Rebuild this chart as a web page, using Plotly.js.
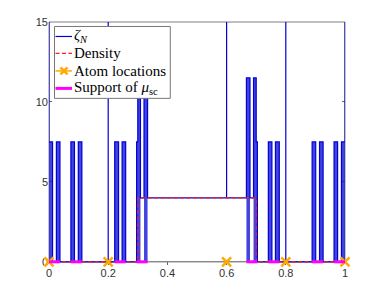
<!DOCTYPE html>
<html>
<head>
<meta charset="utf-8">
<script src="https://cdn.plot.ly/plotly-3.0.1.min.js"></script>
<style>html,body{margin:0;padding:0;background:#fff}#chart{width:382px;height:295px}</style>
</head>
<body>
<div id="chart"></div>
<script>
// ---- data ----
const atomX = [0, 0.2, 0.6, 0.8, 1];
const atomY = [0, 0, 0, 0, 0];
const densityX = [0, 0.3, 0.3, 0.7, 0.7, 1];
const densityY = [0, 0, 4, 4, 0, 0];
const densityLevel = 4;
const densityFrom = 0.3, densityTo = 0.7;
const supportStart = [0, 0.074, 0.222, 0.296, 0.667, 0.741, 0.889, 0.963];
const supportEnd   = [0.037, 0.111, 0.259, 0.333, 0.704, 0.778, 0.926, 1];
const barStart = [0, 0.025, 0.074, 0.099, 0.222, 0.247, 0.296, 0.321, 0.667, 0.691, 0.741, 0.765, 0.889, 0.914, 0.963, 0.988];
const barEnd   = [0.012, 0.037, 0.086, 0.111, 0.235, 0.259, 0.309, 0.333, 0.679, 0.704, 0.753, 0.778, 0.901, 0.926, 0.975, 1];
const barHeight = 7.5;
const atomSpike = 40;
const xTicks = [0, 0.2, 0.4, 0.6, 0.8, 1];
const xTickText = ['0', '0.2', '0.4', '0.6', '0.8', '1'];
const yTicks = [0, 5, 10, 15];
const yTickText = ['0', '5', '10', '15'];
const legendNames = ['<i>ζ</i><sub><i>N</i></sub>', 'Density', 'Atom locations', 'Support of <i>μ</i><sub>sc</sub>'];

// ---- colours ----
const blue = 'rgb(0,0,215)';
const red = 'rgb(255,30,30)';
const orange = 'rgb(255,170,0)';
const magenta = 'rgb(255,0,255)';

// ---- build zeta_N path (sum of the read components) ----
function level(x) {
  let v = 0;
  for (let i = 0; i < barStart.length; i++) if (x > barStart[i] && x < barEnd[i]) v += barHeight;
  if (x > densityFrom && x < densityTo) v += densityLevel;
  return v;
}
let bp = [0, 1, densityFrom, densityTo].concat(barStart, barEnd, atomX);
bp = Array.from(new Set(bp.map(v => +v.toFixed(6)))).sort((a, b) => a - b);
const zx = [], zy = [];
for (let i = 0; i < bp.length; i++) {
  const p = bp[i];
  if (i > 0) { zx.push(p); zy.push(level((bp[i - 1] + p) / 2)); }
  if (atomX.indexOf(p) >= 0) { zx.push(p); zy.push(atomSpike); }
  if (i < bp.length - 1) { zx.push(p); zy.push(level((p + bp[i + 1]) / 2)); }
}
// filled body of each zeta_N bar (dense oscillation in the reference)
const fx = [], fy = [];
for (let i = 0; i < barStart.length; i++) {
  const s = barStart[i], e = barEnd[i];
  const pts = [s].concat([densityFrom, densityTo].filter(v => v > s && v < e), [e]);
  fx.push(s); fy.push(0);
  for (let k = 0; k < pts.length - 1; k++) {
    const v = level((pts[k] + pts[k + 1]) / 2);
    fx.push(pts[k], pts[k + 1]); fy.push(v, v);
  }
  fx.push(e, s, null); fy.push(0, 0, null);
}
const sx = [], sy = [];
for (let i = 0; i < supportStart.length; i++) {
  sx.push(supportStart[i], supportEnd[i], null);
  sy.push(0, 0, null);
}
const ax = [], ay = [];
for (let i = 0; i < atomX.length; i++) { ax.push(atomX[i], null); ay.push(atomY[i], null); }

const traces = [
  {x: fx, y: fy, mode: 'lines', fill: 'toself', fillcolor: 'rgba(20,20,215,0.8)',
   line: {width: 0}, showlegend: false, hoverinfo: 'skip'},
  {x: zx, y: zy, mode: 'lines', name: legendNames[0], line: {color: blue, width: 1.2}},
  {x: densityX, y: densityY, mode: 'lines', name: legendNames[1],
   line: {color: red, width: 1.3, dash: '4px,2.5px'}},
  {x: ax, y: ay, mode: 'lines+markers', name: legendNames[2], connectgaps: false,
   line: {color: orange, width: 1.5},
   marker: {symbol: 'x-thin', size: 9, color: orange, line: {color: orange, width: 2.5}},
   cliponaxis: false},
  {x: sx, y: sy, mode: 'lines', name: legendNames[3], connectgaps: false,
   line: {color: magenta, width: 3}}
];

// ---- plot-area geometry (pixels) for the hand-drawn legend box ----
const L = 49, T = 22, B = 29.6, R = 36.5, Wd = 382 - L - R, Ht = 295 - T - B;
const PX = p => (p - L) / Wd;
const PY = p => (T + Ht - p) / Ht;
const rows = [36.5, 53.5, 71, 88.5];
const symX0 = 55.5, symX1 = 72, textX = 73;

const shapes = [
  {type: 'line', xref: 'paper', yref: 'paper', x0: 0, x1: 1, y0: 1, y1: 1,
   line: {color: '#aaa', width: 1.5}, layer: 'below'},
  {type: 'line', xref: 'paper', yref: 'y', x0: 0, x1: 1, y0: 0, y1: 0,
   line: {color: '#555', width: 1}, layer: 'below'},
  {type: 'line', xref: 'paper', yref: 'y', x0: 0, x1: 0, y0: 0, y1: 15,
   line: {color: '#888', width: 1}, layer: 'below'},
  {type: 'line', xref: 'paper', yref: 'y', x0: 1, x1: 1, y0: 0, y1: 15,
   line: {color: '#888', width: 1}, layer: 'below'},
  // legend box
  {type: 'rect', xref: 'paper', yref: 'paper', x0: PX(54.5), x1: PX(170.5), y0: PY(98.5), y1: PY(26.5),
   line: {color: '#777', width: 1}, fillcolor: '#fff', layer: 'above'},
  {type: 'line', xref: 'paper', yref: 'paper', x0: PX(symX0), x1: PX(symX1), y0: PY(rows[0]), y1: PY(rows[0]),
   line: {color: blue, width: 1.2}, layer: 'above'},
  {type: 'line', xref: 'paper', yref: 'paper', x0: PX(symX0), x1: PX(symX1), y0: PY(rows[1]), y1: PY(rows[1]),
   line: {color: red, width: 1.3, dash: '4px,2.5px'}, layer: 'above'},
  {type: 'line', xref: 'paper', yref: 'paper', x0: PX(symX0), x1: PX(symX1), y0: PY(rows[2]), y1: PY(rows[2]),
   line: {color: orange, width: 1.5}, layer: 'above'},
  {type: 'line', xref: 'paper', yref: 'paper', x0: PX(60.5), x1: PX(67.5), y0: PY(rows[2] - 3.5), y1: PY(rows[2] + 3.5),
   line: {color: orange, width: 2.5}, layer: 'above'},
  {type: 'line', xref: 'paper', yref: 'paper', x0: PX(60.5), x1: PX(67.5), y0: PY(rows[2] + 3.5), y1: PY(rows[2] - 3.5),
   line: {color: orange, width: 2.5}, layer: 'above'},
  {type: 'line', xref: 'paper', yref: 'paper', x0: PX(symX0), x1: PX(symX1), y0: PY(rows[3]), y1: PY(rows[3]),
   line: {color: magenta, width: 3}, layer: 'above'}
];
const legendFont = {family: 'Liberation Serif, Times New Roman, serif', size: 15, color: '#000'};
const annotations = legendNames.map((t, i) => ({
  text: t, xref: 'paper', yref: 'paper', x: PX(textX), y: PY(rows[i]),
  xanchor: 'left', yanchor: 'middle', showarrow: false, font: legendFont, borderpad: 0
}));

const axisFont = {family: 'Liberation Sans, Arial, sans-serif', size: 11, color: '#333'};
const layout = {
  width: 382, height: 295,
  margin: {l: L, r: R, t: T, b: B, pad: 0},
  paper_bgcolor: '#fff', plot_bgcolor: '#fff',
  showlegend: false,
  xaxis: {range: [0, 1], tickvals: xTicks, ticktext: xTickText, ticks: 'inside', ticklen: 3,
          tickcolor: '#666', showline: false, mirror: false,
          showgrid: false, zeroline: false, tickfont: axisFont, layer: 'below traces'},
  yaxis: {range: [-0.2, 15], tickvals: yTicks, ticktext: yTickText, ticks: 'inside', ticklen: 3,
          tickcolor: '#666', showline: false, mirror: 'ticks',
          showgrid: false, zeroline: false, tickfont: axisFont, layer: 'below traces'},
  shapes: shapes,
  annotations: annotations
};
Plotly.newPlot('chart', traces, layout, {displayModeBar: false, staticPlot: true});
</script>
</body>
</html>
